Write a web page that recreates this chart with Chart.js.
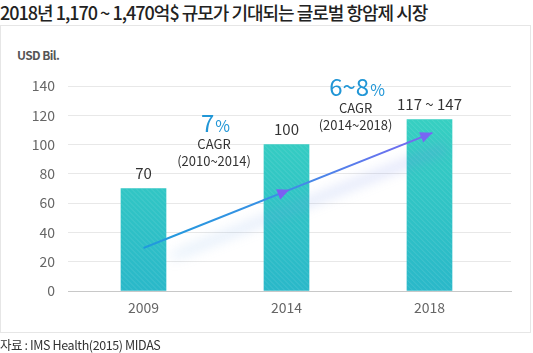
<!DOCTYPE html>
<html>
<head>
<meta charset="utf-8">
<script src="https://cdn.jsdelivr.net/npm/chart.js@4.4.1/dist/chart.umd.min.js"></script>
<style>
    html, body { margin: 0; padding: 0; background: #fff; }
    body { width: 533px; height: 353px; position: relative; overflow: hidden; font-family: 'Noto Sans CJK KR', 'Noto Sans', sans-serif; }
    .title { position: absolute; left: 0; top: 0; font-size: 18px; font-weight: 500; color: #222; letter-spacing: -1px; line-height: 24px; white-space: nowrap; }
    .box { position: absolute; left: 0; top: 25px; width: 529px; height: 306px; border: 1px solid #e6e6e6; }
    .unit { position: absolute; left: 17px; top: 47px; font-size: 12px; font-weight: 700; color: #555; letter-spacing: -0.6px; line-height: 16px; }
    .source { position: absolute; left: 0; top: 337px; font-size: 12.5px; color: #333; letter-spacing: -0.4px; line-height: 16px; white-space: nowrap; }
    #chart { position: absolute; left: 0; top: 0; }
</style>
</head>
<body>
<div class="title">2018년 1,170 ~ 1,470억$ 규모가 기대되는 글로벌 항암제 시장</div>
<div class="box"></div>
<div class="unit">USD Bil.</div>
<canvas id="chart" width="533" height="353"></canvas>
<div class="source">자료 : IMS Health(2015) MIDAS</div>

<script>
// ---- DATA ----
const years = ['2009', '2014', '2018'];
const marketSize = [70, 100, 117];
const valueLabels = ['70', '100', '117 ~ 147'];
const yTicks = [0, 20, 40, 60, 80, 100, 120, 140];

// trend arrow (x in category index units)
const trendX = [0, 2.02];
const trendY = [29.4, 108];

// CAGR notes
const cagrBig = ['7', '6~8'];
const cagrPeriod = ['(2010~2014)', '(2014~2018)'];
const cagrX = [0.5, 1.49];
const cagrY = [108.5, 133];

const FONT = "'Noto Sans CJK KR', 'Noto Sans', sans-serif";

function barGradient(context) {
    const chart = context.chart;
    const area = chart.chartArea;
    if (!area) return '#33c6c4';
    const g = chart.ctx.createLinearGradient(0, area.top, 0, area.bottom);
    g.addColorStop(0, '#39d4c0');
    g.addColorStop(1, '#2ab8c9');
    return g;
}

function lineGradient(context) {
    const chart = context.chart;
    const area = chart.chartArea;
    if (!area) return '#2a96dc';
    const xs = chart.scales.x;
    const g = chart.ctx.createLinearGradient(xs.getPixelForValue(trendX[0]), 0, xs.getPixelForValue(trendX[1]), 0);
    g.addColorStop(0, '#1f9bdc');
    g.addColorStop(0.5, '#3d8ee6');
    g.addColorStop(1, '#7a66f2');
    return g;
}

function drawArrowHead(ctx, x, y, ang, len, half, color) {
    ctx.save();
    ctx.translate(x, y);
    ctx.rotate(ang);
    ctx.beginPath();
    ctx.moveTo(0, 0);
    ctx.lineTo(-len, -half);
    ctx.lineTo(-len, half);
    ctx.closePath();
    ctx.fillStyle = color;
    ctx.fill();
    ctx.restore();
}

// stripes on bars, glow + arrowheads on the trend line, labels
const decorPlugin = {
    id: 'decor',
    afterDatasetDraw(chart, args) {
        const ctx = chart.ctx;
        if (args.index === 1) {
            // faint diagonal stripes over bars
            args.meta.data.forEach(bar => {
                const left = bar.x - bar.width / 2;
                ctx.save();
                ctx.beginPath();
                ctx.rect(left, bar.y, bar.width, bar.base - bar.y);
                ctx.clip();
                ctx.strokeStyle = 'rgba(255,255,255,0.13)';
                ctx.lineWidth = 1;
                for (let k = -300; k < 300; k += 5) {
                    ctx.beginPath();
                    ctx.moveTo(left + k, bar.y);
                    ctx.lineTo(left + k + 300, bar.y + 300);
                    ctx.stroke();
                }
                ctx.restore();
            });
        }
        if (args.index === 0) {
            const pts = args.meta.data;
            const x0 = pts[0].x, y0 = pts[0].y, x1 = pts[1].x, y1 = pts[1].y;
            const ang = Math.atan2(y1 - y0, x1 - x0);
            const t = 0.505;
            drawArrowHead(ctx, x0 + (x1 - x0) * t, y0 + (y1 - y0) * t, ang, 12, 5.5, '#7b5ff2');
            drawArrowHead(ctx, x1, y1, ang, 12, 5.5, '#7866f4');
        }
    },
    beforeDatasetDraw(chart, args) {
        if (args.index !== 0) return;
        const ctx = chart.ctx;
        const pts = args.meta.data;
        const x0 = pts[0].x, y0 = pts[0].y, x1 = pts[1].x, y1 = pts[1].y;
        ctx.save();
        ctx.filter = 'blur(6px)';
        ctx.lineCap = 'round';
        ctx.lineWidth = 9;
        const g = ctx.createLinearGradient(x0, 0, x1, 0);
        g.addColorStop(0, 'rgba(110,170,230,0)');
        g.addColorStop(0.15, 'rgba(110,170,230,0.18)');
        g.addColorStop(1, 'rgba(120,130,235,0.24)');
        ctx.strokeStyle = g;
        ctx.beginPath();
        ctx.moveTo(x0 + 30, y0 + 8);
        ctx.lineTo(x1 + 10, y1 + 16);
        ctx.stroke();
        ctx.restore();
    },
    afterDatasetsDraw(chart) {
        const ctx = chart.ctx;
        const xs = chart.scales.x, ys = chart.scales.y;
        ctx.save();
        ctx.textAlign = 'center';
        ctx.textBaseline = 'alphabetic';
        // value labels above bars
        ctx.fillStyle = '#333';
        ctx.font = '15px ' + FONT;
        chart.getDatasetMeta(1).data.forEach((bar, i) => {
            ctx.fillText(valueLabels[i], bar.x, bar.y - 10);
        });
        // CAGR notes
        cagrBig.forEach((big, i) => {
            const cx = xs.getPixelForValue(cagrX[i]);
            const cy = ys.getPixelForValue(cagrY[i]);
            ctx.font = '24px ' + FONT;
            const wBig = ctx.measureText(big).width;
            ctx.font = '16px ' + FONT;
            const wPct = ctx.measureText('%').width;
            const start = cx - (wBig + wPct) / 2;
            ctx.textAlign = 'left';
            ctx.fillStyle = '#2196d6';
            ctx.font = '24px ' + FONT;
            ctx.fillText(big, start, cy);
            ctx.font = '16px ' + FONT;
            ctx.fillText('%', start + wBig + 1, cy);
            ctx.textAlign = 'center';
            ctx.fillStyle = '#333';
            ctx.font = '13px ' + FONT;
            ctx.fillText('CAGR', cx - 1, cy + 17);
            ctx.fillText(cagrPeriod[i], cx - 1, cy + 34);
        });
        ctx.restore();
    }
};

new Chart(document.getElementById('chart'), {
    data: {
        datasets: [{
            type: 'line',
            data: trendX.map((x, i) => ({ x: x, y: trendY[i] })),
            borderColor: lineGradient,
            borderWidth: 2,
            pointRadius: 0,
            tension: 0,
            order: 0
        }, {
            type: 'bar',
            data: marketSize.map((v, i) => ({ x: i, y: v })),
            backgroundColor: barGradient,
            barThickness: 45,
            order: 1
        }]
    },
    options: {
        responsive: false,
        animation: false,
        events: [],
        layout: { padding: { left: 0, top: 86, right: 22, bottom: 0 } },
        plugins: { legend: { display: false }, tooltip: { enabled: false } },
        scales: {
            x: {
                type: 'linear',
                offset: false,
                min: -0.528,
                max: 2.570,
                afterFit: s => { s.height = 62; },
                afterBuildTicks: s => { s.ticks = years.map((y, i) => ({ value: i })); },
                grid: { display: false, drawTicks: false },
                border: { color: '#c8c8c8', width: 1 },
                ticks: {
                    padding: 8,
                    color: '#666',
                    font: { family: FONT, size: 14 },
                    callback: v => years[v]
                }
            },
            y: {
                min: 0,
                max: 140,
                afterFit: s => { s.width = 68; },
                afterBuildTicks: s => { s.ticks = yTicks.map(v => ({ value: v })); },
                grid: { color: '#e8e8e8', drawTicks: false },
                border: { display: false },
                ticks: {
                    padding: 13,
                    color: '#666',
                    font: { family: FONT, size: 14 }
                }
            }
        }
    },
    plugins: [decorPlugin]
});
</script>
</body>
</html>
